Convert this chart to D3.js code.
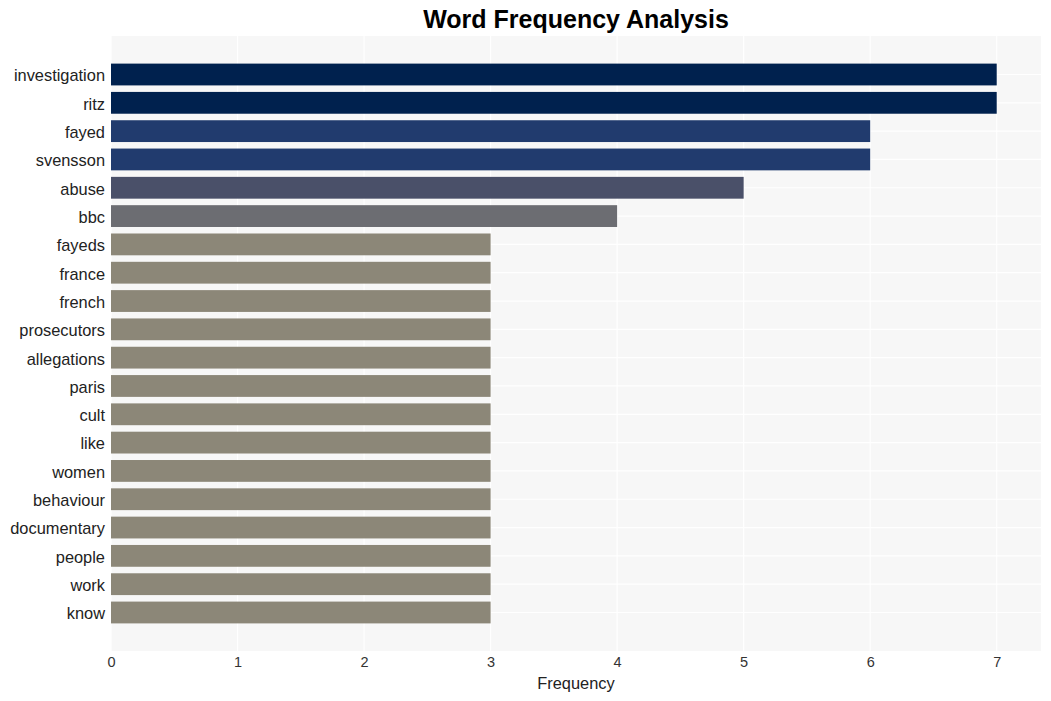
<!DOCTYPE html>
<html><head><meta charset="utf-8">
<script src="https://cdn.jsdelivr.net/npm/d3@7"></script>
<style>body{margin:0;background:#fff;} text{font-family:"Liberation Sans",Arial,sans-serif;}</style>
</head><body>
<svg id="c" width="1051" height="701"></svg>
<script>
const words = ["investigation","ritz","fayed","svensson","abuse","bbc","fayeds","france","french","prosecutors","allegations","paris","cult","like","women","behaviour","documentary","people","work","know"];
const counts = [7,7,6,6,5,4,3,3,3,3,3,3,3,3,3,3,3,3,3,3];
const xTicks = [0,1,2,3,4,5,6,7];
const colorByCount = {7:"#00214e",6:"#213b6e",5:"#4a5069",4:"#6c6d72",3:"#8c8778"};

const svg = d3.select("#c");
const L = 111, R = 1041, T = 36, B = 651;
const x = d3.scaleLinear().domain([0, 7.35]).range([L, R]);
const y = d3.scaleBand().domain(words).range([T, B]).paddingInner(0.23).paddingOuter(0.975);

svg.append("rect").attr("x", L).attr("y", T).attr("width", R-L).attr("height", B-T).attr("fill", "#f7f7f7");
svg.append("g").selectAll("line").data(xTicks).join("line")
  .attr("x1", d=>x(d)).attr("x2", d=>x(d)).attr("y1", T).attr("y2", B)
  .attr("stroke", "#fff").attr("stroke-width", 1.2);
svg.append("g").selectAll("line").data(words).join("line")
  .attr("x1", L).attr("x2", R).attr("y1", d=>y(d)+y.bandwidth()/2).attr("y2", d=>y(d)+y.bandwidth()/2)
  .attr("stroke", "#fff").attr("stroke-width", 1.2);

svg.append("g").selectAll("rect").data(words).join("rect")
  .attr("x", x(0)).attr("y", d=>y(d)).attr("height", y.bandwidth())
  .attr("width", (d,i)=>x(counts[i]) - x(0))
  .attr("fill", (d,i)=>colorByCount[counts[i]]);

const ya = svg.append("g").attr("transform", `translate(${L},0)`).call(d3.axisLeft(y).tickSize(0).tickPadding(6));
ya.select(".domain").remove();
ya.selectAll("text").attr("font-size", 16.4).attr("dy", "0.42em").attr("fill", "#222").attr("font-family", "Liberation Sans, Arial, sans-serif");

const xa = svg.append("g").attr("transform", `translate(0,${B})`).call(d3.axisBottom(x).tickValues(xTicks).tickSize(0).tickPadding(6).tickFormat(d3.format("d")));
xa.select(".domain").remove();
xa.selectAll("text").attr("font-size", 14.5).attr("fill", "#333").attr("font-family", "Liberation Sans, Arial, sans-serif");

svg.append("text").attr("x", (L+R)/2).attr("y", 689).attr("text-anchor", "middle")
  .attr("font-size", 16.4).attr("fill", "#222").text("Frequency");
svg.append("text").attr("x", (L+R)/2).attr("y", 28).attr("text-anchor", "middle")
  .attr("font-size", 25).attr("font-weight", "bold").attr("fill", "#000").text("Word Frequency Analysis");
</script>
</body></html>
